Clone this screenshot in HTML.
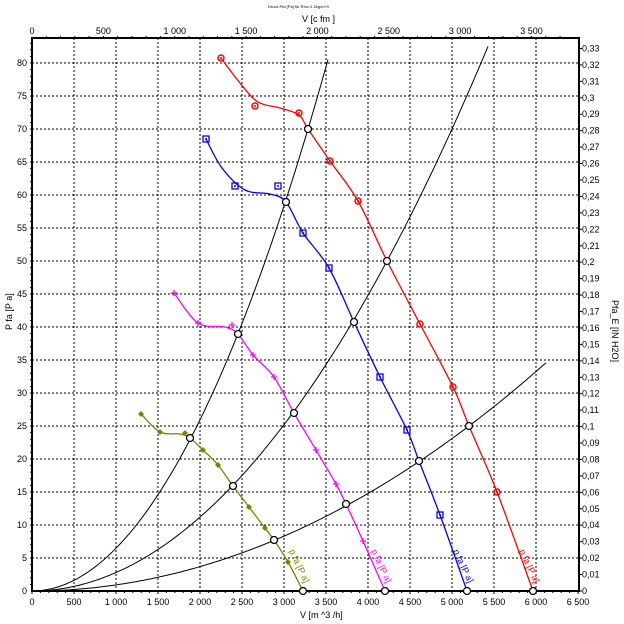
<!DOCTYPE html>
<html><head><meta charset="utf-8"><style>
html,body{margin:0;padding:0;background:#fff;}
svg{display:block;font-family:"Liberation Sans",sans-serif;}
</style></head><body>
<svg id="s" width="624" height="624" xmlns="http://www.w3.org/2000/svg"></svg>
<script>
const S=document.getElementById('s');let h='';
const L=32,R=579,T=38,B=591;
const X=v=>L+v*0.084, Y=p=>B-p*6.6;
// grid
for(let v=500;v<=6000;v+=500)h+=`<line x1="${X(v)}" y1="${T}" x2="${X(v)}" y2="${B}" stroke="#000" stroke-width="1" stroke-dasharray="2,2"/>`;
for(let p=5;p<=80;p+=5)h+=`<line x1="${L}" y1="${Y(p)}" x2="${R}" y2="${Y(p)}" stroke="#000" stroke-width="1" stroke-dasharray="2,2"/>`;
// axes frame
h+=`<rect x="${L}" y="${T}" width="${R-L}" height="${B-T}" fill="none" stroke="#000" stroke-width="2"/>`;
// bottom labels
for(let v=0;v<=6500;v+=500){let t=v>=1000?(Math.floor(v/1000)+' '+String(v%1000).padStart(3,'0')):String(v);h+=`<text x="${X(v)}" y="605" font-size="9" text-anchor="middle">${t}</text>`;h+=`<line x1="${X(v)}" y1="${B}" x2="${X(v)}" y2="${B+3}" stroke="#000"/>`;}
for(let v=100;v<6500;v+=100)h+=`<line x1="${X(v)}" y1="${B}" x2="${X(v)}" y2="${B+2}" stroke="#000"/>`;
h+=`<text x="300" y="618" font-size="9">V  [m ^3 /h]</text>`;
// top cfm
for(let c=0;c<=3500;c+=500){let x=X(c*1.699);let t=c>=1000?(Math.floor(c/1000)+' '+String(c%1000).padStart(3,'0')):String(c);h+=`<text x="${x}" y="34" font-size="9" text-anchor="middle">${t}</text>`;}
for(let c=100;c<3800;c+=100){let x=X(c*1.699);if(x<R)h+=`<line x1="${x}" y1="${T}" x2="${x}" y2="${T-2}" stroke="#000"/>`;}
h+=`<text x="302" y="22" font-size="9">V  [c fm ]</text>`;
h+=`<text x="268" y="8" font-size="4">Druck Pfa [Pa] für Rho=1.2kg/m^3</text>`;
// left
for(let p=0;p<=80;p+=5){h+=`<text x="27" y="${Y(p)+3}" font-size="9" text-anchor="end">${p}</text>`;}
for(let p=1;p<=83;p++)h+=`<line x1="${L}" y1="${Y(p)}" x2="${L-2}" y2="${Y(p)}" stroke="#000"/>`;
h+=`<text x="12" y="330" font-size="9" transform="rotate(-90 12 330)">P fa  [P a]</text>`;
// right
for(let i=0;i<=33;i++){let y=Y(i*0.01*249.09);let t=i==0?'0':'0,'+String(i).padStart(2,'0').replace(/0$/,i%10==0?'':'0');t=i==0?'0':'0,'+(i<10?'0'+i:(i%10==0?String(i/10):String(i)));h+=`<text x="582" y="${y+3}" font-size="9">${t}</text>`;h+=`<line x1="${R}" y1="${y}" x2="${R+3}" y2="${y}" stroke="#000"/>`;}
h+=`<text x="612" y="300" font-size="9" transform="rotate(90 612 300)">Pfa_E  [IN H2O]</text>`;
// system curves
[[0.006065,53],[0.002619,46],[0.000864,361]].forEach(([k,ye])=>{let d='M'+L+' '+B;for(let x=L;x<=600;x+=2){let y=B-k*(x-L)**2;if(y<ye)break;d+=` L${x} ${y.toFixed(1)}`;}h+=`<path d="${d}" fill="none" stroke="#000" stroke-width="1"/>`;});
function cr(p){let d=`M${p[0][0]} ${p[0][1]}`;for(let i=0;i<p.length-1;i++){let p0=p[i-1]||p[i],p1=p[i],p2=p[i+1],p3=p[i+2]||p2;d+=` C${p1[0]+(p2[0]-p0[0])/6} ${p1[1]+(p2[1]-p0[1])/6} ${p2[0]-(p3[0]-p1[0])/6} ${p2[1]-(p3[1]-p1[1])/6} ${p2[0]} ${p2[1]}`;}return d;}
const curves=[
{c:'#f00',m:'o',line:[[221,58],[240,83],[258,102],[280,108],[299,115],[308,129],[330,161],[358,201],[387,261],[420,324],[453,387],[469,426],[497,492],[533,591]],mk:[[221,58],[255,106],[299,113],[330,161],[358,201],[420,324],[453,387],[497,492]],ci:[[308,129],[387,261],[469,426],[533,591]]},
{c:'#00f',m:'s',line:[[206,139],[222,168],[245,190],[270,194],[286,202],[303,233],[329,268],[354,322],[380,377],[407,430],[419,461],[440,515],[467,591]],mk:[[206,139],[235,186],[278,186],[303,233],[329,268],[380,377],[407,430],[440,515]],ci:[[286,202],[354,322],[419,461],[467,591]]},
{c:'#f0f',m:'p',line:[[174,293],[198,323],[225,327],[238,334],[253,355],[274,377],[294,413],[316,450],[336,484],[346,504],[363,541],[385,591]],mk:[[174,293],[198,323],[232,325],[253,355],[274,377],[316,450],[336,484],[363,541]],ci:[[238,334],[294,413],[346,504],[385,591]]},
{c:'#808000',m:'d',line:[[141,414],[160,432],[180,434],[190,438],[203,450],[218,465],[233,486],[249,507],[265,528],[274,540],[288,562],[303,591]],mk:[[141,414],[160,432],[185,433],[203,450],[218,465],[249,507],[265,528],[288,562]],ci:[[190,438],[233,486],[274,540],[303,591]]}];
curves.forEach(k=>{h+=`<path d="${cr(k.line)}" fill="none" stroke="${k.c}" stroke-width="1.3"/>`;
k.mk.forEach(([x,y])=>{if(k.m=='o')h+=`<circle cx="${x}" cy="${y}" r="3" fill="none" stroke="${k.c}" stroke-width="1.5"/><circle cx="${x}" cy="${y}" r="1" fill="${k.c}"/>`;
else if(k.m=='s')h+=`<rect x="${x-3}" y="${y-3}" width="6" height="6" fill="none" stroke="${k.c}" stroke-width="1.3"/><circle cx="${x}" cy="${y}" r="1" fill="${k.c}"/>`;
else if(k.m=='p')h+=`<path d="M${x-3} ${y}H${x+3}M${x} ${y-3}V${y+3}" stroke="${k.c}" stroke-width="1.3"/>`;
else h+=`<path d="M${x} ${y-3}L${x+3} ${y}L${x} ${y+3}L${x-3} ${y}Z" fill="${k.c}"/>`;});
k.ci.forEach(([x,y])=>h+=`<circle cx="${x}" cy="${y}" r="3.5" fill="#fff" stroke="#000" stroke-width="1.3"/>`);
let e=k.line[k.line.length-1];h+=`<text x="${e[0]-14}" y="${e[1]-40}" font-size="9" fill="${k.c}" transform="rotate(65 ${e[0]-14} ${e[1]-40})">p fa  [P a]</text>`;});
S.innerHTML=h;
</script>
</body></html>
